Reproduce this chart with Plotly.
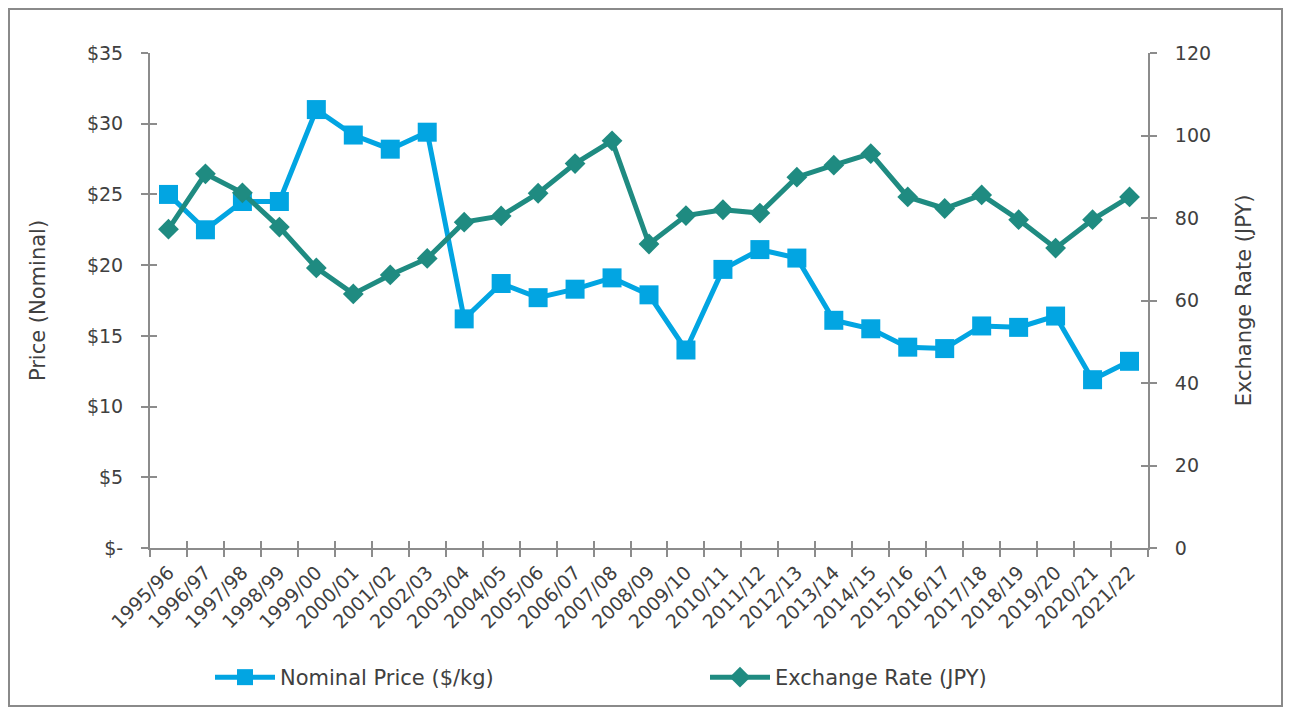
import plotly.graph_objects as go

seasons = ["1995/96", "1996/97", "1997/98", "1998/99", "1999/00", "2000/01", "2001/02",
           "2002/03", "2003/04", "2004/05", "2005/06", "2006/07", "2007/08", "2008/09",
           "2009/10", "2010/11", "2011/12", "2012/13", "2013/14", "2014/15", "2015/16",
           "2016/17", "2017/18", "2018/19", "2019/20", "2020/21", "2021/22"]

nominal_price = [25.0, 22.5, 24.5, 24.5, 31.0, 29.2, 28.2, 29.4, 16.2, 18.7, 17.7, 18.3,
                 19.1, 17.9, 14.0, 19.7, 21.1, 20.5, 16.1, 15.5, 14.2, 14.1, 15.7, 15.6,
                 16.4, 11.9, 13.2]

exchange_rate = [77.3, 90.7, 86.1, 77.8, 67.9, 61.6, 66.2, 70.2, 79.0, 80.5, 86.0, 93.2,
                 98.7, 73.7, 80.6, 82.0, 81.2, 89.9, 92.8, 95.6, 85.1, 82.3, 85.6, 79.6,
                 72.7, 79.6, 85.1]

price_ticks = [0, 5, 10, 15, 20, 25, 30, 35]
price_ticktext = ["$-", "$5", "$10", "$15", "$20", "$25", "$30", "$35"]
rate_ticks = [0, 20, 40, 60, 80, 100, 120]

BLUE = "#02A5E2"
TEAL = "#1F8B81"
GREY = "#8C8C8C"
TEXT = "#404040"
FONT = "DejaVu Sans, Verdana, sans-serif"

# figure geometry (page body adds an 8px offset)
W, H = 1275, 699
ML, MR, MT, MB = 142, 135, 45, 159
PW, PH = W - ML - MR, H - MT - MB

fig = go.Figure()
fig.add_trace(go.Scatter(
    x=seasons, y=nominal_price, name="Nominal Price ($/kg)", mode="lines+markers",
    line=dict(color=BLUE, width=5),
    marker=dict(symbol="square", size=19, color=BLUE),
    yaxis="y", hoverinfo="x+y"))
fig.add_trace(go.Scatter(
    x=seasons, y=exchange_rate, name="Exchange Rate (JPY)", mode="lines+markers",
    line=dict(color=TEAL, width=5),
    marker=dict(symbol="diamond", size=16, color=TEAL),
    yaxis="y2", hoverinfo="x+y"))

# invisible helper traces so the inner half of the cross ticks get drawn
fig.add_trace(go.Scatter(x=seasons, y=nominal_price, xaxis="x2", yaxis="y3",
                         mode="lines", opacity=0, showlegend=False, hoverinfo="skip"))
fig.add_trace(go.Scatter(x=seasons, y=exchange_rate, xaxis="x2", yaxis="y4",
                         mode="lines", opacity=0, showlegend=False, hoverinfo="skip"))

tick_font = dict(family=FONT, size=19, color=TEXT)
title_font = dict(family=FONT, size=21, color=TEXT)
axis_common = dict(showgrid=False, zeroline=False, showline=True, linecolor=GREY,
                   linewidth=2, ticks="outside", tickcolor=GREY, tickwidth=2, ticklen=7,
                   tickfont=tick_font)
inner_common = dict(showgrid=False, zeroline=False, showline=False, ticks="inside",
                    tickcolor=GREY, tickwidth=2, ticklen=7, showticklabels=False)
xr = [-0.5, len(seasons) - 0.5]

fig.update_layout(
    width=W, height=H,
    paper_bgcolor="white", plot_bgcolor="white",
    margin=dict(l=ML, r=MR, t=MT, b=MB, autoexpand=False),
    font=dict(family=FONT, color=TEXT, size=19),
    xaxis=dict(**axis_common, type="category", tickson="boundaries", tickangle=-45,
               range=xr, ticklabelstandoff=4),
    xaxis2=dict(**inner_common, type="category", tickson="boundaries", range=xr,
                overlaying="x", side="bottom", anchor="y"),
    yaxis=dict(**axis_common, range=[0, 35], tickvals=price_ticks, ticktext=price_ticktext,
               ticklabelstandoff=14,
               title=dict(text="Price (Nominal)", font=title_font, standoff=36)),
    yaxis2=dict(**axis_common, range=[0, 120], tickvals=rate_ticks, overlaying="y",
                side="right", anchor="x", ticklabelstandoff=14,
                title=dict(text="Exchange Rate (JPY)", font=title_font, standoff=26)),
    yaxis3=dict(**inner_common, range=[0, 35], tickvals=price_ticks, overlaying="y",
                side="left", anchor="x"),
    yaxis4=dict(**inner_common, range=[0, 120], tickvals=rate_ticks, overlaying="y",
                side="right", anchor="x"),
    legend=dict(orientation="h", x=(210 - 150) / PW, xanchor="left",
                yref="container", y=(H - (657 - 8)) / H, yanchor="top",
                bgcolor="rgba(0,0,0,0)",
                font=dict(family=FONT, size=21, color=TEXT), itemwidth=60,
                traceorder="normal", entrywidth=420, entrywidthmode="pixels"),
    showlegend=True,
)

# outer chart border
fig.add_shape(type="rect", xref="paper", yref="paper",
              x0=(1 - ML) / PW, x1=(W - 1 - ML) / PW,
              y0=(MT + PH - (H - 1)) / PH, y1=(MT + PH - 1) / PH,
              line=dict(color="#8A8A8A", width=2), fillcolor="rgba(0,0,0,0)", layer="below")

fig.write_html("out.html")
